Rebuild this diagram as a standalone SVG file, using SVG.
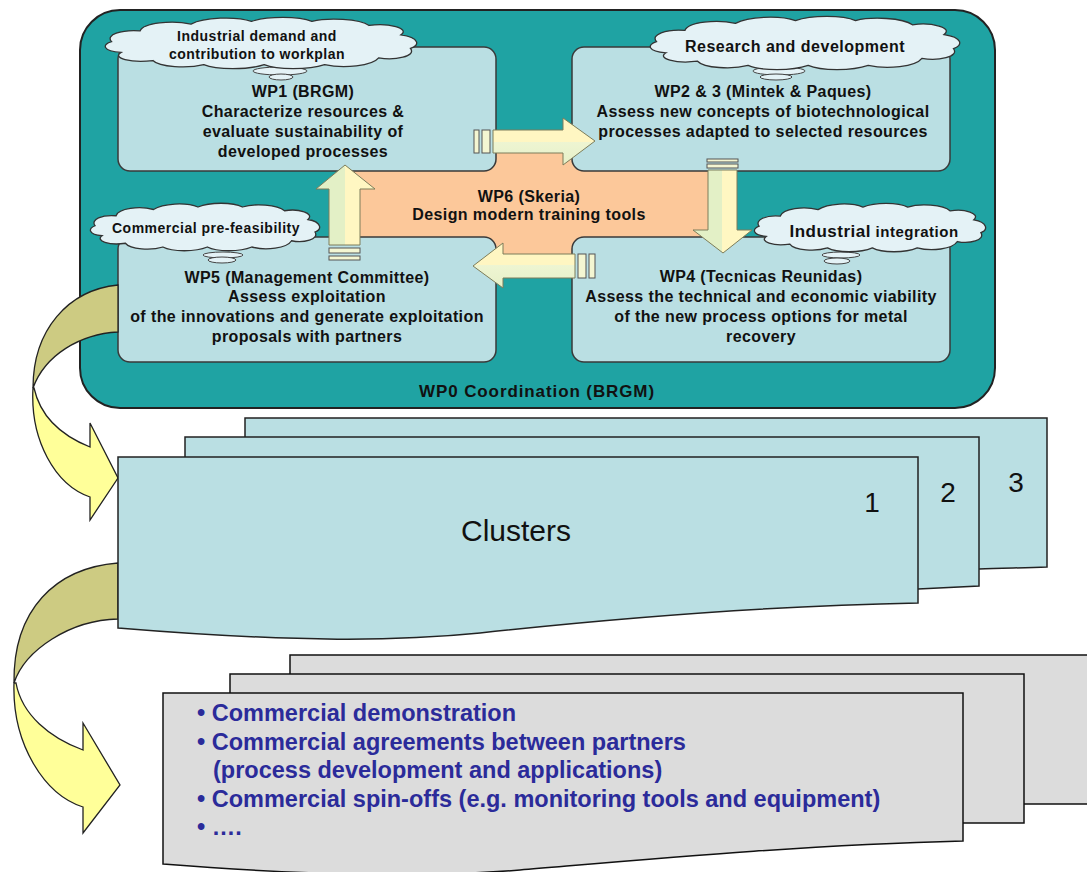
<svg xmlns="http://www.w3.org/2000/svg" xmlns:xlink="http://www.w3.org/1999/xlink" width="1087" height="872" viewBox="0 0 1087 872">
<style>
.box{fill:#BADFE3;stroke:#3a3a3a;stroke-width:1.5}
.t{font-family:"Liberation Sans",Arial,sans-serif;font-weight:bold;font-size:16px;letter-spacing:0.4px;fill:#111;text-anchor:middle}
.ct{font-family:"Liberation Sans",Arial,sans-serif;font-weight:bold;font-size:14px;letter-spacing:0.5px;fill:#111;text-anchor:middle}
.cloud{fill:#E4F2F6;stroke:#333;stroke-width:1.3}
.bub{fill:#E4F2F6;stroke:#444;stroke-width:1}
.arH{fill:url(#agH);stroke:#7d7d5a;stroke-width:1}
.arV{fill:url(#agV);stroke:#7d7d5a;stroke-width:1}
.str{fill:#F4F6D2;stroke:#555;stroke-width:1}
.page{fill:#BADFE3;stroke:#222;stroke-width:1.5}
.gpage{fill:#DCDCDC;stroke:#111;stroke-width:1.5}
.bl{font-family:"Liberation Sans",Arial,sans-serif;font-weight:bold;font-size:23.5px;fill:#2B2B9A}
.num{font-family:"Liberation Sans",Arial,sans-serif;font-size:28px;fill:#111;text-anchor:middle}
.olive{fill:#CDCB82;stroke:#222;stroke-width:1.3}
.yel{fill:#FFFF99;stroke:#222;stroke-width:1.3}
</style>
<defs>
<linearGradient id="agH" x1="0" y1="0" x2="0" y2="1">
<stop offset="0" stop-color="#FFF6C2"/><stop offset="0.5" stop-color="#FFF6C2"/><stop offset="0.5" stop-color="#EEF5D2"/><stop offset="1" stop-color="#E6F0C8"/>
</linearGradient>
<linearGradient id="agV" x1="0" y1="0" x2="1" y2="0">
<stop offset="0" stop-color="#E3F0C6"/><stop offset="0.5" stop-color="#E3F0C6"/><stop offset="0.5" stop-color="#FFF7C2"/><stop offset="1" stop-color="#FFF7C2"/>
</linearGradient>
<symbol id="cloudS" viewBox="0 0 100 40" preserveAspectRatio="none">
<path class="cloud" vector-effect="non-scaling-stroke" d="M3,19 C1,14 6,10 12,11 C13,5 22,3 28,6 C32,1 42,0 47,4 C52,0 62,0 66,4 C71,1 81,2 84,7 C90,5 97,9 94,14 C100,16 100,22 97,24 C99,30 92,33 87,31 C85,37 76,39 70,36 C65,40 55,40 51,36 C46,40 36,40 32,36 C27,39 18,38 16,33 C9,35 3,31 6,27 C0,26 0,21 3,19 Z"/>
</symbol>
</defs>

<g id="wp0">
<rect x="80" y="10" width="915" height="398" rx="40" fill="#1FA3A3" stroke="#222" stroke-width="2"/>
<text class="t" x="537" y="397" style="font-size:17px;letter-spacing:0.9px">WP0 Coordination (BRGM)</text>
</g>

<g id="wp6">
<rect x="345" y="150" width="377" height="106" fill="#FCC89A" stroke="#333" stroke-width="1"/>
<text class="t" x="529" y="202">WP6 (Skeria)</text>
<text class="t" x="529" y="220">Design modern training tools</text>
</g>

<g id="wp1">
<rect class="box" x="118" y="47" width="378" height="124" rx="12"/>
<text class="t" x="303" y="97">WP1 (BRGM)</text>
<text class="t" x="303" y="117">Characterize resources &amp;</text>
<text class="t" x="303" y="137">evaluate sustainability of</text>
<text class="t" x="303" y="157">developed processes</text>
</g>

<g id="wp23">
<rect class="box" x="572" y="47" width="378" height="124" rx="12"/>
<text class="t" x="763" y="97">WP2 &amp; 3 (Mintek &amp; Paques)</text>
<text class="t" x="763" y="117">Assess new concepts of biotechnological</text>
<text class="t" x="763" y="137">processes adapted to selected resources</text>
</g>

<g id="wp5">
<rect class="box" x="118" y="237" width="378" height="125" rx="12"/>
<text class="t" x="307" y="283">WP5 (Management Committee)</text>
<text class="t" x="307" y="302">Assess exploitation</text>
<text class="t" x="307" y="322">of the innovations and generate exploitation</text>
<text class="t" x="307" y="342">proposals with partners</text>
</g>

<g id="wp4">
<rect class="box" x="572" y="237" width="378" height="125" rx="12"/>
<text class="t" x="761" y="282">WP4 (Tecnicas Reunidas)</text>
<text class="t" x="761" y="302">Assess the technical and economic viability</text>
<text class="t" x="761" y="322">of the new process options for metal</text>
<text class="t" x="761" y="342">recovery</text>
</g>

<g id="connectors">
<!-- WP1 -> WP2 -->
<rect class="str" x="474" y="130" width="5" height="23"/>
<rect class="str" x="482" y="130" width="8" height="23"/>
<path class="arH" d="M493,130 H563 V118 L595,141 L563,165 V153 H493 Z"/>
<!-- WP2 -> WP4 -->
<rect class="str" x="707" y="159" width="31" height="3"/>
<rect class="str" x="707" y="164" width="31" height="4"/>
<path class="arV" d="M708,170 V230 H693 L723,253 L752,230 H737 V170 Z"/>
<!-- WP4 -> WP5 -->
<rect class="str" x="578" y="254" width="8" height="24"/>
<rect class="str" x="589" y="254" width="6" height="24"/>
<path class="arH" d="M575,254 H503 V243 L473,266 L503,288 V278 H575 Z"/>
<!-- WP5 -> WP1 -->
<rect class="str" x="329" y="248" width="31" height="5"/>
<rect class="str" x="329" y="256" width="31" height="4"/>
<path class="arV" d="M329,245 V189 H316 L345,165 L375,189 H360 V245 Z"/>
<!-- WP5 -> Clusters -->
<path class="olive" d="M118,285 C68,290 33,330 33,388 C45,355 80,334 118,332 Z"/>
<path class="yel" d="M33,388 C30,440 55,485 90,497 L90,520 L118,478 L90,423 L90,447 C60,435 40,415 34,388 Z"/>
<!-- Clusters -> Commercial -->
<path class="olive" d="M118,563 C55,568 13,610 14,683 C25,650 70,620 118,619 Z"/>
<path class="yel" d="M14,683 C12,745 45,795 83,807 L83,833 L120,785 L83,723 L83,750 C50,738 22,715 16,683 Z"/>
</g>

<g id="cloud1">
<ellipse class="bub" cx="280" cy="71" rx="27" ry="4"/>
<ellipse class="bub" cx="281" cy="77" rx="12" ry="3"/>
<use href="#cloudS" x="102" y="16" width="318" height="54"/>
<text class="ct" x="257" y="41">Industrial demand and</text>
<text class="ct" x="257" y="59">contribution to workplan</text>
</g>

<g id="cloud2">
<ellipse class="bub" cx="779" cy="71" rx="26" ry="4"/>
<ellipse class="bub" cx="776" cy="77" rx="16" ry="3"/>
<use href="#cloudS" x="647" y="15" width="316" height="56"/>
<text class="ct" x="795" y="52" style="font-size:16px;letter-spacing:0.5px">Research and development</text>
</g>

<g id="cloud3">
<ellipse class="bub" cx="223" cy="255" rx="20" ry="3"/>
<ellipse class="bub" cx="222" cy="260" rx="14" ry="3"/>
<use href="#cloudS" x="88" y="202" width="234" height="50"/>
<text class="ct" x="206" y="233">Commercial pre-feasibility</text>
</g>

<g id="cloud4">
<ellipse class="bub" cx="841" cy="255" rx="19" ry="3"/>
<ellipse class="bub" cx="837" cy="261" rx="13" ry="3"/>
<use href="#cloudS" x="752" y="202" width="236" height="51"/>
<text class="ct" x="874" y="237"><tspan style="font-size:17px">Industrial</tspan><tspan style="font-size:15px"> integration</tspan></text>
</g>

<g id="clusters">
<path class="page" d="M245,418 H1047 V567 C1020,568 1000,568 979,569 L245,569 Z"/>
<path class="page" d="M185,437 H979 V586 C960,587 940,588 918,589 L185,589 Z"/>
<path class="page" d="M118,457 H918 V603 C760,606 600,620 480,633 C400,641 300,643 118,628 Z"/>
<text x="516" y="541" style="font-family:'Liberation Sans',Arial,sans-serif;font-size:30px;fill:#111;text-anchor:middle">Clusters</text>
<text class="num" x="872" y="512">1</text>
<text class="num" x="948" y="502">2</text>
<text class="num" x="1016" y="492">3</text>
</g>

<g id="commercial">
<path class="gpage" d="M290,655 H1095 V804 H290 Z"/>
<path class="gpage" d="M230,674 H1024 V823 H230 Z"/>
<path class="gpage" d="M163,693 H963 V841 C800,845 640,860 520,870 C420,878 300,875 163,864 Z"/>
<text class="bl" x="197" y="721">• Commercial demonstration</text>
<text class="bl" x="197" y="750">• Commercial agreements between partners</text>
<text class="bl" x="213" y="778">(process development and applications)</text>
<text class="bl" x="197" y="807">• Commercial spin-offs (e.g. monitoring tools and equipment)</text>
<text class="bl" x="197" y="835">• ….</text>
</g>
</svg>
